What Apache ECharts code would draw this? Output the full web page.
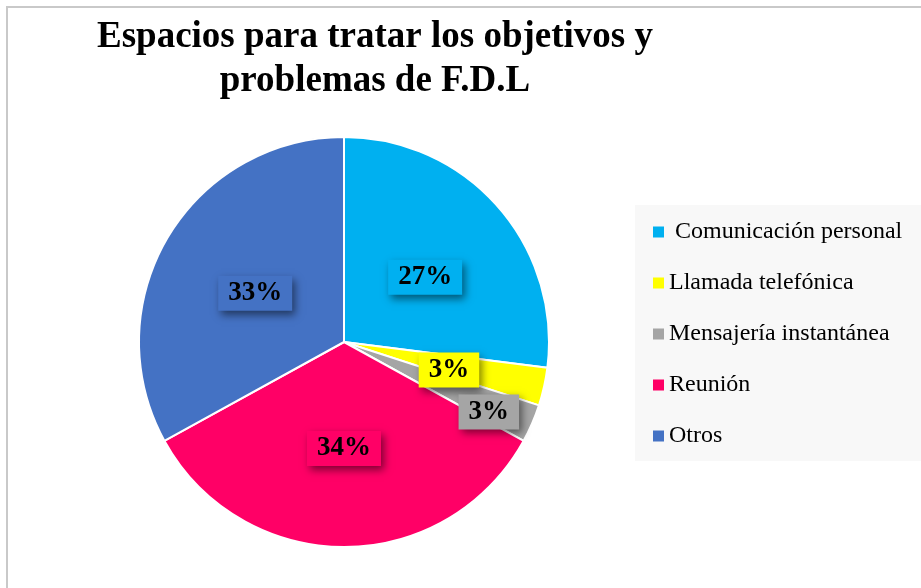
<!DOCTYPE html>
<html>
<head>
<meta charset="utf-8">
<script src="https://cdn.jsdelivr.net/npm/echarts@6/dist/echarts.min.js"></script>
<style>
html,body{margin:0;padding:0;background:#fff;}
#chart{width:921px;height:588px;}
</style>
</head>
<body>
<div id="chart"></div>
<script>
const titleText = 'Espacios para tratar los objetivos y\nproblemas de F.D.L';
const categories = [' Comunicación personal', 'Llamada telefónica', 'Mensajería instantánea', 'Reunión', 'Otros'];
const values = [27, 3, 3, 34, 33];
const colors = ['#00b0f0', '#ffff00', '#a5a5a5', '#ff0066', '#4472c4'];

const chart = echarts.init(document.getElementById('chart'));
const serif = '"Liberation Serif", "Times New Roman", serif';

chart.setOption({
  animation: false,
  backgroundColor: '#ffffff',
  graphic: [{
    type: 'rect',
    shape: { x: 7, y: 7, width: 1000, height: 1000 },
    style: { fill: 'none', stroke: '#c9c9c9', lineWidth: 2 },
    silent: true
  }],
  title: {
    text: titleText,
    left: 375,
    top: 15,
    textAlign: 'center',
    padding: 0,
    textStyle: {
      fontFamily: serif,
      fontWeight: 'bold',
      fontSize: 37,
      lineHeight: 44,
      color: '#000'
    }
  },
  legend: {
    orient: 'vertical',
    left: 635,
    top: 205,
    padding: [15, 30, 13, 18],
    backgroundColor: '#f8f8f8',
    itemWidth: 11,
    itemHeight: 11,
    itemGap: 27,
    icon: 'rect',
    itemStyle: { borderWidth: 0, borderColor: 'transparent' },
    data: categories,
    textStyle: {
      fontFamily: serif,
      fontSize: 24,
      lineHeight: 24,
      color: '#000'
    }
  },
  series: [{
    type: 'pie',
    center: [344, 342],
    radius: 205,
    startAngle: 90,
    clockwise: true,
    data: categories.map((c, i) => ({ name: c, value: values[i], itemStyle: { color: colors[i] } })),
    itemStyle: { borderColor: '#ffffff', borderWidth: 2 },
    label: {
      show: true,
      position: 'inner',
      formatter: p => p.value + '%',
      fontFamily: serif,
      fontWeight: 'bold',
      fontSize: 27,
      color: '#000',
      backgroundColor: 'inherit',
      padding: [4, 10, 4, 10],
      shadowBlur: 8,
      shadowColor: 'rgba(0,0,0,0.5)',
      shadowOffsetX: 3,
      shadowOffsetY: 4
    },
    labelLine: { show: false },
    labelLayout: function (params) {
      if (params.dataIndex === 2) {
        return { dx: 48, dy: 28 };
      }
      if (params.dataIndex === 3) {
        return { dy: 1 };
      }
      return { dx: 2, dy: 5 };
    },
    emphasis: { disabled: true }
  }]
});
</script>
</body>
</html>
